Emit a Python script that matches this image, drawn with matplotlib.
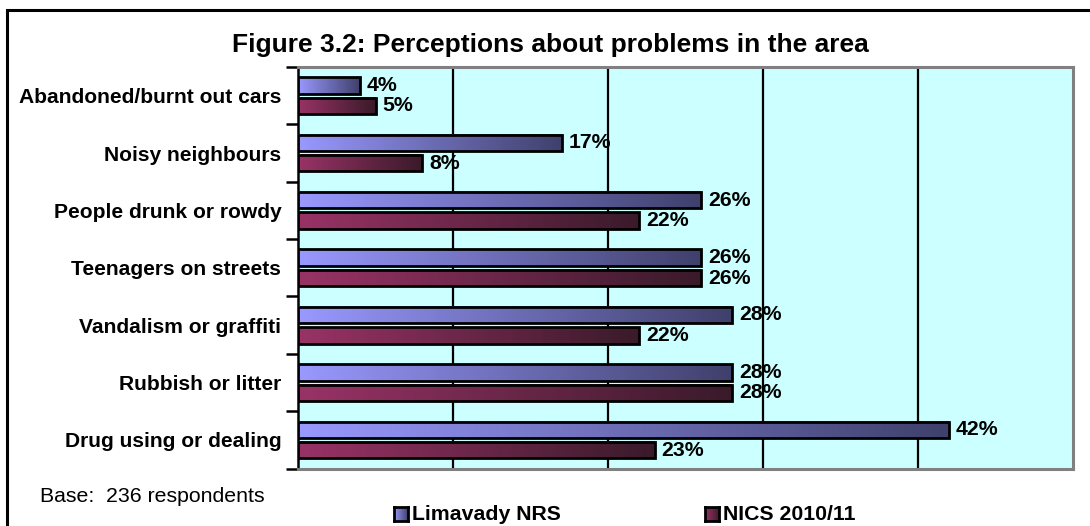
import matplotlib
matplotlib.use("Agg")
import matplotlib.pyplot as plt
import numpy as np
from matplotlib.colors import LinearSegmentedColormap
from matplotlib.patches import Rectangle
from matplotlib.transforms import offset_copy

plt.rcParams['font.family'] = ['Liberation Sans', 'DejaVu Sans']

categories = ["Abandoned/burnt out cars", "Noisy neighbours", "People drunk or rowdy",
              "Teenagers on streets", "Vandalism or graffiti", "Rubbish or litter",
              "Drug using or dealing"]
limavady = [4, 17, 26, 26, 28, 28, 42]
nics = [5, 8, 22, 26, 22, 28, 23]
series_names = ["Limavady NRS", "NICS 2010/11"]
title = "Figure 3.2: Perceptions about problems in the area"
base_note = "Base:  236 respondents"

W, H = 1090, 526
fig = plt.figure(figsize=(W / 100, H / 100), dpi=100)
fig.patch.set_facecolor("white")

# outer frame (left and top edges visible)
fig.add_artist(Rectangle((7 / W, -0.1), 1.5, 1 - 10 / H + 0.1, transform=fig.transFigure,
                         fill=False, edgecolor="black", lw=2.2))

ax = fig.add_axes([298 / W, 1 - 468.6 / H, (1073 - 298) / W, (468.6 - 67) / H])
ax.set_facecolor("#CCFFFF")

cm_lim = LinearSegmentedColormap.from_list("lim", ["#9999FF", "#40406C"])
cm_nic = LinearSegmentedColormap.from_list("nic", ["#993366", "#3A1A2A"])
grad = np.linspace(0, 1, 256).reshape(1, -1)

FS = 15.3
h = 0.285
off = 0.178
y = np.arange(len(categories))
for vals, cmap, sgn in [(limavady, cm_lim, -1), (nics, cm_nic, 1)]:
    for yi, v in zip(y, vals):
        yc = yi + sgn * off
        ax.imshow(grad, cmap=cmap, extent=[0, v, yc + h / 2, yc - h / 2],
                  aspect="auto", zorder=3, interpolation="bilinear")
    ax.barh(y + sgn * off, vals, height=h, fill=False, edgecolor="black", lw=2, zorder=4)
    for yi, v in zip(y, vals):
        t = offset_copy(ax.transData, fig=fig, x=7, y=0, units="dots")
        ax.text(v, yi + sgn * off, f"{v}%", transform=t, ha="left", va="center",
                fontsize=FS, fontweight="bold", zorder=5)

ax.set_xlim(0, 50)
ax.set_ylim(len(categories) - 0.5, -0.5)

for gx in [10, 20, 30, 40]:
    ax.axvline(gx, color="black", lw=1.6, zorder=2)

ax.set_xticks([])
ax.set_yticks(np.arange(-0.5, len(categories), 1))
ax.set_yticklabels([])
ax.set_yticks(y, minor=True)
ax.set_yticklabels(categories, minor=True, fontsize=15.1, fontweight="bold")
ax.tick_params(axis="y", which="major", direction="out", length=9, width=1.8, color="black")
ax.tick_params(axis="y", which="minor", length=0, pad=12)

ax.spines["left"].set_color("black")
ax.spines["left"].set_linewidth(1.8)
for s in ["top", "right", "bottom"]:
    ax.spines[s].set_color("#808080")
    ax.spines[s].set_linewidth(2.2)

fig.text(550 / W, 1 - 45 / H, title, ha="center", va="center", fontsize=19, fontweight="bold")
fig.text(40 / W, 1 - 497 / H, base_note, ha="left", va="center", fontsize=FS)

# legend
def legend_item(x0, cmap, label):
    ax_l = fig.add_axes([x0 / W, 1 - 521 / H, 14 / W, 14 / H])
    ax_l.imshow(grad, cmap=cmap, aspect="auto", extent=[0, 1, 0, 1])
    ax_l.set_xticks([]); ax_l.set_yticks([])
    for s in ax_l.spines.values():
        s.set_linewidth(2); s.set_color("black")
    fig.text((x0 + 18) / W, 1 - 514 / H, label, ha="left", va="center",
             fontsize=FS, fontweight="bold")

legend_item(394, cm_lim, series_names[0])
legend_item(705, cm_nic, series_names[1])

fig.savefig("out.png", dpi=100)
